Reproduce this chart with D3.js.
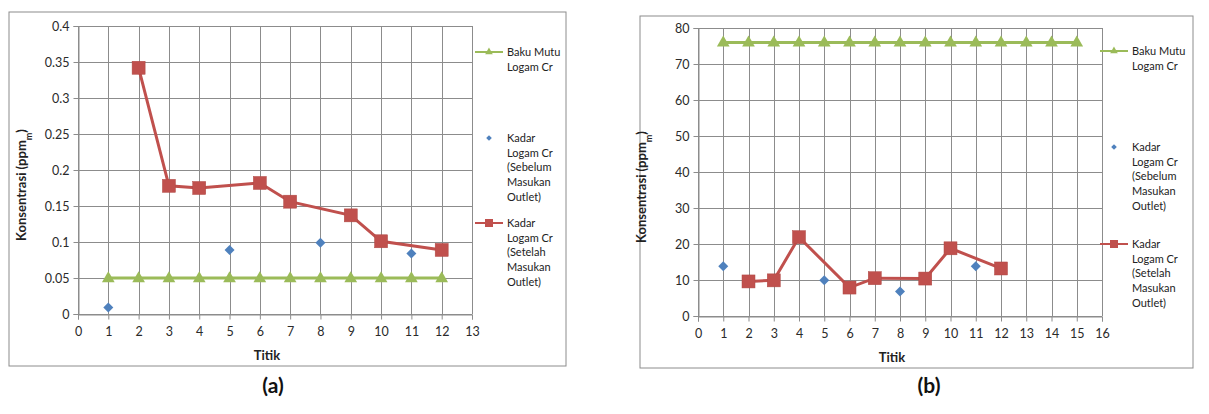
<!DOCTYPE html>
<html>
<head>
<meta charset="utf-8">
<script src="https://cdn.jsdelivr.net/npm/d3@7"></script>
<style>
  body { margin: 0; background: #fff; }
  svg text { font-family: Lato, "Open Sans", sans-serif; }
</style>
</head>
<body>
<svg id="chart" width="1209" height="414"></svg>
<script>
// data
const titikA = [1, 2, 3, 4, 5, 6, 7, 8, 9, 10, 11, 12];
const bakuMutuA = [0.05, 0.05, 0.05, 0.05, 0.05, 0.05, 0.05, 0.05, 0.05, 0.05, 0.05, 0.05];
const sebelumXA = [1, 5, 8, 11];
const sebelumA = [0.009, 0.089, 0.099, 0.084];
const setelahXA = [2, 3, 4, 6, 7, 9, 10, 12];
const setelahA = [0.342, 0.178, 0.175, 0.182, 0.156, 0.137, 0.101, 0.089];
const xTicksA = d3.range(0, 14);
const yTicksA = [0, 0.05, 0.1, 0.15, 0.2, 0.25, 0.3, 0.35, 0.4];

const titikB = [1, 2, 3, 4, 5, 6, 7, 8, 9, 10, 11, 12, 13, 14, 15];
const bakuMutuB = [76, 76, 76, 76, 76, 76, 76, 76, 76, 76, 76, 76, 76, 76, 76];
const sebelumXB = [1, 5, 8, 11];
const sebelumB = [13.8, 9.9, 6.8, 13.8];
const setelahXB = [2, 3, 4, 6, 7, 9, 10, 12];
const setelahB = [9.6, 9.9, 21.9, 7.9, 10.5, 10.4, 18.8, 13.2];
const xTicksB = d3.range(0, 17);
const yTicksB = [0, 10, 20, 30, 40, 50, 60, 70, 80];

const legendLabels = [
  ['Baku Mutu', 'Logam Cr'],
  ['Kadar', 'Logam Cr', '(Sebelum', 'Masukan', 'Outlet)'],
  ['Kadar', 'Logam Cr', '(Setelah', 'Masukan', 'Outlet)']
];

const GREEN = '#9bbb59', BLUE = '#4f81bd', RED = '#c0504d';
const svg = d3.select('#chart');

function drawPanel(cfg) {
  const g = svg.append('g');

  // outer frame
  g.append('rect')
    .attr('x', cfg.box[0]).attr('y', cfg.box[1])
    .attr('width', cfg.box[2] - cfg.box[0]).attr('height', cfg.box[3] - cfg.box[1])
    .attr('fill', '#fff').attr('stroke', '#8c8c8c').attr('stroke-width', 1);

  const x = d3.scaleLinear().domain([0, cfg.xMax]).range([cfg.plot[0], cfg.plot[2]]);
  const y = d3.scaleLinear().domain([0, cfg.yMax]).range([cfg.plot[3], cfg.plot[1]]);

  // grid
  g.append('g').selectAll('line.v').data(cfg.xTicks).enter().append('line')
    .attr('x1', d => Math.round(x(d)) + 0.5).attr('x2', d => Math.round(x(d)) + 0.5)
    .attr('y1', y(cfg.yMax)).attr('y2', y(0))
    .attr('stroke', '#8c8c8c').attr('stroke-width', 1);
  g.append('g').selectAll('line.h').data(cfg.yTicks).enter().append('line')
    .attr('y1', d => Math.round(y(d)) + 0.5).attr('y2', d => Math.round(y(d)) + 0.5)
    .attr('x1', x(0)).attr('x2', x(cfg.xMax))
    .attr('stroke', '#8c8c8c').attr('stroke-width', 1);

  // axes
  const xAxis = d3.axisBottom(x).tickValues(cfg.xTicks).tickSize(5).tickPadding(8).tickFormat(d3.format('d'));
  const yAxis = d3.axisLeft(y).tickValues(cfg.yTicks).tickSize(5).tickPadding(4).tickFormat(cfg.yFormat);
  const xa = g.append('g').attr('transform', `translate(0,${Math.round(y(0)) + 0.5})`).call(xAxis);
  const ya = g.append('g').attr('transform', `translate(${Math.round(x(0)) + 0.5},0)`).call(yAxis);
  [xa, ya].forEach(a => {
    a.select('.domain').attr('stroke', '#8c8c8c');
    a.selectAll('.tick line').attr('stroke', '#8c8c8c');
    a.selectAll('.tick text').attr('fill', '#2a2a2a').style('font-size', '12.5px');
  });

  // axis titles
  g.append('text')
    .attr('x', (cfg.plot[0] + cfg.plot[2]) / 2 - 8).attr('y', cfg.plot[3] + 46)
    .attr('text-anchor', 'middle').style('font-size', '13px').style('font-weight', 'bold')
    .attr('fill', '#222').text('Titik');
  const yt = g.append('text')
    .attr('transform', `translate(${cfg.plot[0] - 52},${(cfg.plot[1] + cfg.plot[3]) / 2 + 15}) rotate(-90)`)
    .attr('text-anchor', 'middle').style('font-size', '13px').style('font-weight', 'bold')
    .attr('fill', '#222');
  yt.append('tspan').text('Konsentrasi (ppm');
  yt.append('tspan').attr('baseline-shift', 'sub').style('font-size', '9px').text('m');
  yt.append('tspan').text(')');

  // Baku Mutu line + triangles
  const line = d3.line().x(d => x(d[0])).y(d => y(d[1]));
  const greenPts = cfg.titik.map((t, i) => [t, cfg.bakuMutu[i]]);
  g.append('path').datum(greenPts).attr('d', line)
    .attr('fill', 'none').attr('stroke', GREEN).attr('stroke-width', 3);
  const tri = d3.symbol().type(d3.symbolTriangle).size(70);
  g.append('g').selectAll('path').data(greenPts).enter().append('path')
    .attr('d', tri).attr('transform', d => `translate(${x(d[0])},${y(d[1]) + 0.5})`)
    .attr('fill', GREEN);

  // Setelah line + squares
  const redPts = cfg.setelahX.map((t, i) => [t, cfg.setelah[i]]);
  g.append('path').datum(redPts).attr('d', line)
    .attr('fill', 'none').attr('stroke', RED).attr('stroke-width', 3);
  g.append('g').selectAll('rect').data(redPts).enter().append('rect')
    .attr('x', d => x(d[0]) - 6.5).attr('y', d => y(d[1]) - 6.5)
    .attr('width', 13).attr('height', 13)
    .attr('fill', RED).attr('stroke', '#b04844').attr('stroke-width', 0.5);

  // Sebelum diamonds (square turned 45 degrees)
  const bluePts = cfg.sebelumX.map((t, i) => [t, cfg.sebelum[i]]);
  const dia = d3.symbol().type(d3.symbolSquare).size(50);
  g.append('g').selectAll('path').data(bluePts).enter().append('path')
    .attr('d', dia).attr('transform', d => `translate(${x(d[0])},${y(d[1])}) rotate(45)`)
    .attr('fill', BLUE);

  // legend
  const lx = cfg.legendX, ly = cfg.legendY;
  g.append('line').attr('x1', lx).attr('x2', lx + 28).attr('y1', ly[0]).attr('y2', ly[0])
    .attr('stroke', GREEN).attr('stroke-width', 2);
  g.append('path').attr('d', d3.symbol().type(d3.symbolTriangle).size(25))
    .attr('transform', `translate(${lx + 14},${ly[0]})`).attr('fill', GREEN);
  g.append('path').attr('d', d3.symbol().type(d3.symbolSquare).size(16))
    .attr('transform', `translate(${lx + 14},${ly[1]}) rotate(45)`).attr('fill', BLUE);
  g.append('line').attr('x1', lx).attr('x2', lx + 28).attr('y1', ly[2]).attr('y2', ly[2])
    .attr('stroke', RED).attr('stroke-width', 2);
  g.append('rect').attr('x', lx + 10).attr('y', ly[2] - 4).attr('width', 8).attr('height', 8)
    .attr('fill', RED);

  legendLabels.forEach((lines, k) => {
    const t = g.append('text').attr('x', lx + 32).attr('y', ly[k] + 4)
      .style('font-size', '11px').attr('fill', '#222');
    lines.forEach((s, j) => {
      t.append('tspan').attr('x', lx + 32).attr('dy', j === 0 ? 0 : 14.7).text(s);
    });
  });

  // panel label
  g.append('text').attr('x', cfg.labelX).attr('y', 393)
    .attr('text-anchor', 'middle').style('font-size', '21px').style('font-weight', 'bold')
    .attr('fill', '#111').text(cfg.label);
}

drawPanel({
  box: [9, 12, 566, 366],
  plot: [78, 26, 472, 314],
  xMax: 13, yMax: 0.4,
  xTicks: xTicksA, yTicks: yTicksA,
  yFormat: d => String(d),
  titik: titikA, bakuMutu: bakuMutuA,
  sebelumX: sebelumXA, sebelum: sebelumA,
  setelahX: setelahXA, setelah: setelahA,
  legendX: 475, legendY: [52, 138, 223],
  labelX: 273, label: '(a)'
});

drawPanel({
  box: [640, 16, 1193, 368],
  plot: [698, 28, 1102, 316],
  xMax: 16, yMax: 80,
  xTicks: xTicksB, yTicks: yTicksB,
  yFormat: d => String(d),
  titik: titikB, bakuMutu: bakuMutuB,
  sebelumX: sebelumXB, sebelum: sebelumB,
  setelahX: setelahXB, setelah: setelahB,
  legendX: 1100, legendY: [51, 147, 244],
  labelX: 929, label: '(b)'
});
</script>
</body>
</html>
